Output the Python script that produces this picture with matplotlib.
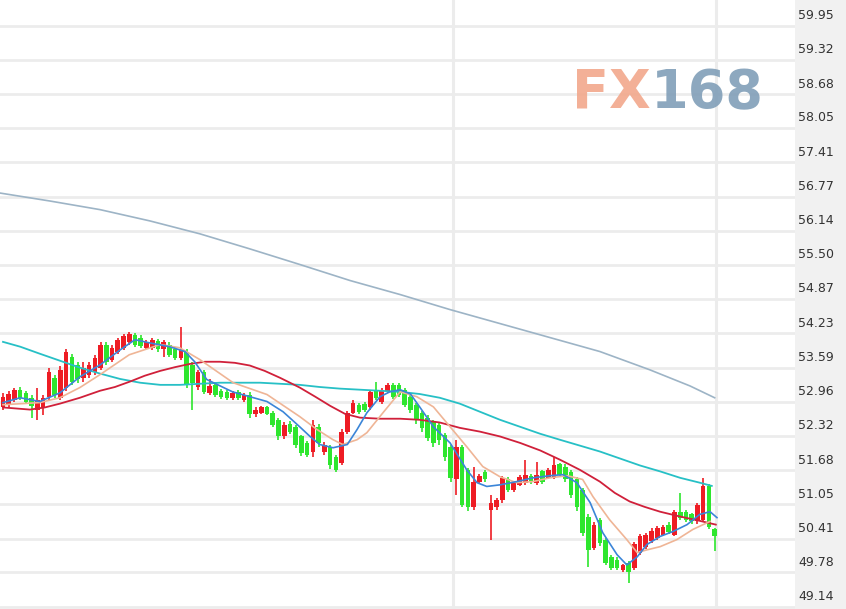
import matplotlib.pyplot as plt
import matplotlib.transforms as mtrans
import numpy as np

c_up = "#ee1c24"
c_down = "#2ee62e"
c_grid = "#ececec"

# candles: open, close, high, low
opens = [52.85, 52.90, 52.99, 53.18, 53.12, 53.03, 52.81, 52.85, 53.05, 53.40,
         53.03, 53.22, 53.79, 53.64, 53.40, 53.46, 53.51, 53.59, 54.02, 53.74,
         53.89, 53.96, 54.07, 54.20, 54.15, 53.96, 53.96, 54.09, 53.93, 54.02,
         53.93, 53.77, 53.89, 53.64, 53.23, 53.51, 53.12, 53.27, 53.16, 53.14,
         53.03, 53.14, 52.99, 53.09, 52.72, 52.75, 52.85, 52.75, 52.62, 52.31,
         52.55, 52.49, 52.31, 52.19, 52.03, 52.49, 52.03, 52.12, 51.92, 51.82,
         52.40, 52.75, 52.90, 52.92, 52.85, 53.18, 52.96, 53.16, 53.27, 53.27,
         53.18, 53.05, 52.90, 52.75, 52.66, 52.59, 52.53, 52.34, 52.12, 51.51,
         52.12, 51.69, 51.00, 51.47, 51.64, 50.95, 51.00, 51.13, 51.51, 51.32,
         51.41, 51.45, 51.58, 51.45, 51.66, 51.54, 51.54, 51.79, 51.75, 51.64,
         51.51, 51.32, 50.82, 50.24, 50.76, 50.39, 50.06, 50.02, 49.83, 49.96,
         49.87, 50.15, 50.26, 50.37, 50.43, 50.48, 50.67, 50.48, 50.91, 50.91,
         50.86, 50.73, 50.76, 51.38, 50.58]
closes = [53.05, 53.10, 53.18, 53.03, 52.96, 52.88, 52.99, 53.03, 53.51, 53.09,
          53.55, 53.89, 53.33, 53.37, 53.59, 53.64, 53.77, 54.02, 53.70, 53.96,
          54.11, 54.18, 54.22, 54.02, 54.00, 54.07, 54.11, 53.93, 54.07, 53.83,
          53.77, 53.91, 53.27, 53.31, 53.51, 53.14, 53.25, 53.09, 53.05, 53.03,
          53.12, 53.03, 53.09, 52.72, 52.81, 52.85, 52.73, 52.53, 52.31, 52.53,
          52.40, 52.16, 52.01, 51.97, 52.53, 52.19, 52.16, 51.77, 51.69, 52.40,
          52.75, 52.94, 52.77, 52.81, 53.14, 53.03, 53.18, 53.27, 53.05, 53.09,
          52.90, 52.81, 52.62, 52.47, 52.29, 52.19, 52.25, 51.93, 51.54, 52.12,
          51.04, 50.99, 51.47, 51.58, 51.51, 51.08, 51.13, 51.54, 51.32, 51.45,
          51.56, 51.60, 51.47, 51.60, 51.47, 51.69, 51.77, 51.60, 51.51, 51.23,
          51.00, 50.52, 50.20, 50.67, 50.33, 49.96, 49.87, 49.87, 49.91, 49.79,
          50.30, 50.45, 50.48, 50.56, 50.61, 50.63, 50.54, 50.91, 50.80, 50.76,
          50.73, 51.04, 51.38, 50.63, 50.45]
highs = [53.12, 53.16, 53.22, 53.23, 53.16, 53.09, 53.22, 53.09, 53.59, 53.46,
         53.62, 53.93, 53.85, 53.70, 53.70, 53.70, 53.83, 54.07, 54.07, 54.02,
         54.15, 54.22, 54.26, 54.24, 54.20, 54.11, 54.15, 54.13, 54.11, 54.07,
         53.98, 54.35, 53.93, 53.70, 53.55, 53.55, 53.37, 53.31, 53.20, 53.18,
         53.16, 53.18, 53.12, 53.14, 52.85, 52.88, 52.88, 52.79, 52.66, 52.57,
         52.59, 52.53, 52.34, 52.23, 52.62, 52.55, 52.20, 52.16, 51.97, 52.44,
         52.79, 52.98, 52.94, 52.96, 53.18, 53.33, 53.22, 53.31, 53.31, 53.31,
         53.22, 53.09, 52.94, 52.79, 52.70, 52.62, 52.57, 52.38, 52.16, 52.25,
         52.16, 51.73, 51.75, 51.62, 51.69, 51.23, 51.17, 51.58, 51.56, 51.49,
         51.60, 51.88, 51.62, 51.84, 51.69, 51.73, 51.92, 51.82, 51.79, 51.69,
         51.56, 51.36, 50.86, 50.71, 50.80, 50.43, 50.10, 50.06, 49.94, 50.00,
         50.35, 50.50, 50.52, 50.60, 50.65, 50.67, 50.71, 50.95, 51.26, 50.95,
         50.89, 51.08, 51.54, 51.42, 50.60]
lows = [52.81, 52.85, 52.96, 52.99, 52.92, 52.66, 52.62, 52.70, 52.99, 53.03,
        52.99, 53.16, 53.27, 53.31, 53.33, 53.40, 53.46, 53.55, 53.64, 53.70,
        53.85, 53.91, 54.02, 53.98, 53.96, 53.93, 53.91, 53.89, 53.79, 53.79,
        53.74, 53.74, 53.22, 52.81, 53.18, 53.10, 53.09, 53.05, 53.01, 52.99,
        52.99, 52.99, 52.96, 52.66, 52.68, 52.72, 52.70, 52.49, 52.25, 52.27,
        52.36, 52.10, 51.95, 51.92, 51.92, 52.12, 51.97, 51.71, 51.64, 51.77,
        52.36, 52.72, 52.73, 52.77, 52.81, 52.99, 52.92, 53.12, 53.01, 53.05,
        52.85, 52.75, 52.55, 52.40, 52.22, 52.12, 52.16, 51.86, 51.47, 51.23,
        50.99, 50.93, 50.95, 51.43, 51.47, 50.39, 50.95, 51.08, 51.28, 51.28,
        51.38, 51.41, 51.43, 51.41, 51.43, 51.51, 51.51, 51.56, 51.47, 51.17,
        50.93, 50.45, 49.89, 50.20, 50.28, 49.91, 49.83, 49.83, 49.79, 49.59,
        49.83, 50.10, 50.22, 50.33, 50.39, 50.45, 50.50, 50.45, 50.76, 50.71,
        50.69, 50.69, 50.71, 50.58, 50.17]

# moving average lines, read at sample candle positions
ma5_x = [0, 3, 6.4, 9.9, 13.4, 16.9, 20.4, 23, 25.6, 29, 31.7, 33.4, 35.5, 40, 46,
         48.8, 51.7, 53.5, 55.2, 57.5, 60, 61.7, 63.4, 65.7, 67.4, 69.2, 71, 72.6,
         75, 77.9, 80.8, 82.6, 84.3, 86.6, 89.5, 92.3, 95.3, 97.6, 100, 102.3,
         104.5, 107, 108.7, 110.5, 112.2, 114.5, 116.7, 119.2, 121.4, 123.2, 124.4]
ma5_y = [52.94, 53.03, 52.96, 53.12, 53.42, 53.64, 53.92, 54.11, 54.05, 53.98,
         53.89, 53.70, 53.37, 53.14, 52.96, 52.77, 52.49, 52.31, 52.16, 52.10,
         52.16, 52.44, 52.75, 53.05, 53.14, 53.18, 53.10, 52.86, 52.49, 52.19,
         51.69, 51.45, 51.38, 51.41, 51.47, 51.54, 51.58, 51.60, 51.45, 51.08,
         50.52, 50.11, 49.92, 50.07, 50.30, 50.45, 50.54, 50.67, 50.86, 50.91, 50.80]

ma10_x = [0, 6.4, 9.9, 13.4, 16.9, 22, 27.4, 30.8, 34.3, 40.1, 46, 51.7, 54.7,
          57.5, 59.2, 61.7, 63.4, 66.2, 69.2, 72.1, 75, 77.9, 80.8, 83.6, 86.6,
          89.5, 92.3, 95.3, 98.3, 101, 102.8, 105.7, 108.7, 110.5, 112.2, 114.5,
          117.4, 120.2, 123.2]
ma10_y = [52.90, 52.94, 53.03, 53.22, 53.46, 53.83, 54.02, 53.96, 53.74, 53.31,
          53.09, 52.68, 52.44, 52.25, 52.16, 52.25, 52.38, 52.75, 53.14, 53.05,
          52.86, 52.49, 52.12, 51.75, 51.56, 51.45, 51.47, 51.54, 51.58, 51.51,
          51.19, 50.76, 50.39, 50.15, 50.20, 50.26, 50.39, 50.58, 50.73]

ma20_x = [0, 4.7, 7.3, 9.9, 13.4, 16.9, 19.5, 22.1, 24.7, 27.4, 30, 32.6, 35.2,
          37.8, 40.4, 43, 45.6, 48.3, 51.7, 54.4, 57, 59.6, 62.2, 65.7, 69.2,
          72.6, 76.1, 79.6, 83.1, 86.6, 90.1, 93.6, 97, 100.5, 104, 106.6, 109.2,
          111.8, 114.5, 118, 121.4, 124.2]
ma20_y = [52.85, 52.81, 52.85, 52.92, 53.03, 53.16, 53.23, 53.33, 53.44, 53.53,
          53.60, 53.66, 53.70, 53.70, 53.68, 53.63, 53.53, 53.40, 53.22, 53.05,
          52.88, 52.73, 52.66, 52.64, 52.64, 52.62, 52.57, 52.47, 52.40, 52.31,
          52.19, 52.05, 51.88, 51.69, 51.47, 51.26, 51.10, 51.00, 50.91, 50.82,
          50.74, 50.67]

ma40_x = [0, 3, 6.4, 9.9, 13.4, 16.9, 20.4, 23.9, 27.4, 30.8, 34.3, 37.8, 41.3,
          44.8, 48.3, 51.7, 55.2, 58.7, 62.2, 65.7, 69.2, 72.6, 76.1, 79.6, 83.1,
          86.6, 90.1, 93.6, 97, 100.5, 104, 107.5, 111, 114.5, 118, 121.4, 123.5]
ma40_y = [54.07, 53.98, 53.85, 53.72, 53.59, 53.48, 53.38, 53.31, 53.27, 53.27,
          53.29, 53.31, 53.31, 53.31, 53.29, 53.27, 53.23, 53.20, 53.18, 53.16,
          53.14, 53.10, 53.03, 52.92, 52.77, 52.62, 52.49, 52.36, 52.25, 52.14,
          52.03, 51.90, 51.77, 51.66, 51.54, 51.45, 51.39]

ma_long_x = [-0.6, 8.2, 16.9, 25.6, 34.3, 43, 51.7, 60.5, 69.2, 77.9, 86.6, 95.3,
             104, 112.7, 119.7, 124]
ma_long_y = [56.84, 56.69, 56.53, 56.32, 56.08, 55.80, 55.51, 55.21, 54.95, 54.67,
             54.41, 54.15, 53.89, 53.55, 53.25, 53.03]

yticks = [49.14, 49.78, 50.41, 51.05, 51.68, 52.32, 52.96, 53.59, 54.23,
          54.87, 55.50, 56.14, 56.77, 57.41, 58.05, 58.68, 59.32, 59.95]

fig = plt.figure(figsize=(8.46, 6.09), dpi=100)
band = plt.Rectangle((795 / 846, 0), 1 - 795 / 846, 1, transform=fig.transFigure,
                     color="#f1f1f1", zorder=-5)
fig.patches.append(band)
ax = fig.add_axes([0, 0, 795 / 846, 1])
ax.set_facecolor("white")

for v in yticks:
    ax.axhline(v, color=c_grid, lw=2.0, zorder=0)
for xv in [78.4, 124.2]:
    ax.axvline(xv, color=c_grid, lw=2.2, zorder=0)

x = np.arange(len(opens))
o = np.array(opens)
c = np.array(closes)
cols = [c_up if cc >= oo else c_down for oo, cc in zip(o, c)]
ax.vlines(x, lows, highs, colors=cols, lw=1.2, zorder=2)
ax.bar(x, np.maximum(np.abs(c - o), 0.03), bottom=np.minimum(o, c), width=0.8,
       color=cols, linewidth=0, zorder=3)

ax.plot(ma_long_x, ma_long_y, color="#9db4c6", lw=1.2, zorder=4)
ax.plot(ma40_x, ma40_y, color="#27c0c6", lw=1.3, zorder=4)
ax.plot(ma20_x, ma20_y, color="#d0203a", lw=1.3, zorder=4)
ax.plot(ma10_x, ma10_y, color="#efb596", lw=1.2, zorder=4)
ax.plot(ma5_x, ma5_y, color="#3b85d8", lw=1.2, zorder=5)

ax.set_xlim(-0.52, 138.0)
ax.set_ylim(49.10, 60.43)
ax.set_xticks([])
ax.set_yticks([])
for s in ax.spines.values():
    s.set_visible(False)

# price labels on the right, a little above their grid lines
trans = mtrans.blended_transform_factory(ax.transAxes, ax.transData)
trans = mtrans.offset_copy(trans, fig=fig, x=3, y=10, units="dots")
for v in yticks:
    ax.text(1.0, v, "%.2f" % v, transform=trans, ha="left", va="center",
            fontsize=9, color="#333333", clip_on=False, zorder=10)

# watermark
fig.text(572 / 846, 1 - 93 / 609, "FX", fontsize=39, fontweight="bold",
         color="#f2a88c", ha="left", va="center", alpha=0.9)
fig.text(651 / 846, 1 - 93 / 609, "168", fontsize=39, fontweight="bold",
         color="#819fb8", ha="left", va="center", alpha=0.9)

fig.savefig("out.png", dpi=100)
